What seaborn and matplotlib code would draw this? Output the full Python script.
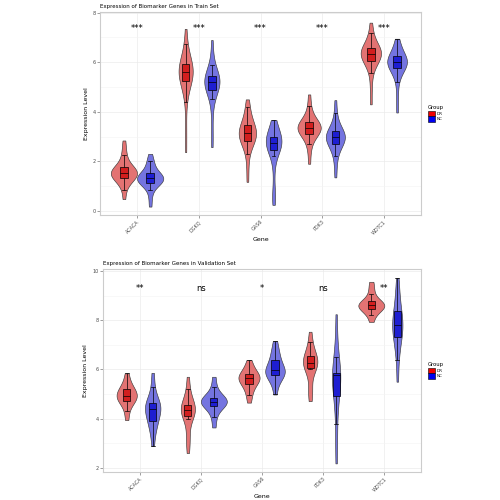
import pandas as pd
import matplotlib
matplotlib.use('Agg')
import matplotlib.pyplot as plt
import seaborn as sns
from matplotlib.patches import Patch
from matplotlib.ticker import MultipleLocator

genes = ['ACACA', 'DGKQ', 'GAS6', 'PDK3', 'WDTC1']
groups = ['DR', 'NC']

train_acaca_dr = [0.47, 0.85, 1.05, 1.18, 1.25, 1.30, 1.33, 1.38, 1.42, 1.46, 1.50, 1.53,
                  1.55, 1.58, 1.62, 1.66, 1.70, 1.74, 1.80, 1.90, 2.05, 2.25, 2.50, 2.84]
train_acaca_nc = [0.17, 0.55, 0.85, 1.00, 1.08, 1.12, 1.16, 1.20, 1.24, 1.27, 1.29, 1.31,
                  1.34, 1.38, 1.42, 1.46, 1.50, 1.56, 1.65, 1.80, 1.97, 2.02, 2.30]
train_dgkq_dr = [2.37, 3.30, 4.40, 4.80, 5.10, 5.22, 5.28, 5.35, 5.42, 5.48, 5.54, 5.60,
                 5.65, 5.70, 5.76, 5.83, 5.90, 5.98, 6.05, 6.20, 6.40, 6.75, 7.35]
train_dgkq_nc = [2.57, 3.20, 4.00, 4.50, 4.75, 4.85, 4.92, 5.00, 5.07, 5.13, 5.18, 5.21,
                 5.25, 5.29, 5.33, 5.37, 5.41, 5.46, 5.55, 5.70, 5.90, 6.30, 6.90]
train_gas6_dr = [1.17, 1.80, 2.30, 2.55, 2.70, 2.78, 2.85, 2.92, 2.98, 3.04, 3.09, 3.13,
                 3.18, 3.24, 3.30, 3.38, 3.45, 3.52, 3.62, 3.78, 3.98, 4.20, 4.50]
train_gas6_nc = [0.24, 0.62, 0.68, 1.60, 2.20, 2.42, 2.52, 2.58, 2.63, 2.67, 2.70, 2.72,
                 2.75, 2.80, 2.85, 2.90, 2.96, 3.02, 3.10, 3.20, 3.32, 3.50, 3.67]
train_pdk3_dr = [1.90, 2.40, 2.70, 2.90, 3.02, 3.08, 3.14, 3.20, 3.25, 3.29, 3.32, 3.35,
                 3.38, 3.42, 3.46, 3.51, 3.55, 3.60, 3.68, 3.80, 3.98, 4.25, 4.70]
train_pdk3_nc = [1.35, 1.85, 2.20, 2.42, 2.58, 2.65, 2.71, 2.78, 2.85, 2.90, 2.94, 2.97,
                 3.00, 3.04, 3.09, 3.14, 3.19, 3.24, 3.32, 3.45, 3.65, 3.95, 4.47]
train_wdtc1_dr = [4.30, 5.00, 5.55, 5.80, 5.95, 6.04, 6.10, 6.16, 6.22, 6.27, 6.31, 6.35,
                  6.39, 6.43, 6.47, 6.51, 6.55, 6.60, 6.68, 6.80, 6.98, 7.20, 7.60]
train_wdtc1_nc = [3.97, 4.60, 5.20, 5.45, 5.62, 5.72, 5.78, 5.84, 5.89, 5.93, 5.97, 6.00,
                  6.03, 6.07, 6.11, 6.15, 6.20, 6.27, 6.35, 6.45, 6.58, 6.75, 6.95]

# validation set expression values
valid_acaca_dr = [3.94, 4.30, 4.55, 4.68, 4.74, 4.80, 4.86, 4.91, 4.96, 5.02, 5.10, 5.18,
                  5.24, 5.35, 5.55, 5.84]
valid_acaca_nc = [2.89, 3.40, 3.70, 3.85, 3.92, 4.10, 4.30, 4.38, 4.44, 4.50, 4.55, 4.60,
                  4.66, 4.90, 5.30, 5.86]
valid_dgkq_dr = [2.60, 3.15, 3.25, 4.00, 4.12, 4.20, 4.28, 4.34, 4.40, 4.44, 4.48, 4.52,
                 4.60, 4.85, 5.20, 5.70]
valid_dgkq_nc = [3.64, 4.05, 4.30, 4.48, 4.55, 4.60, 4.64, 4.67, 4.70, 4.74, 4.79, 4.84,
                 4.90, 5.05, 5.30, 5.70]
valid_gas6_dr = [4.65, 4.95, 5.15, 5.30, 5.42, 5.50, 5.56, 5.61, 5.66, 5.70, 5.75, 5.80,
                 5.90, 6.00, 6.15, 6.38]
valid_gas6_nc = [4.98, 5.40, 5.60, 5.72, 5.80, 5.86, 5.90, 5.94, 5.98, 6.05, 6.20, 6.35,
                 6.48, 6.65, 6.85, 7.15]
valid_pdk3_dr = [4.71, 5.10, 5.25, 6.00, 6.05, 6.10, 6.18, 6.25, 6.30, 6.36, 6.45, 6.52,
                 6.62, 6.80, 7.10, 7.53]
valid_pdk3_nc = [2.18, 3.00, 3.80, 4.80, 4.95, 5.30, 5.60, 5.74, 5.78, 5.80, 5.82, 5.84,
                 5.86, 6.50, 7.30, 8.24]
valid_wdtc1_dr = [7.93, 8.20, 8.35, 8.42, 8.48, 8.53, 8.57, 8.60, 8.63, 8.67, 8.70, 8.74,
                  8.85, 9.05, 9.30, 9.56]
valid_wdtc1_nc = [5.50, 6.40, 6.90, 7.15, 7.35, 7.55, 7.70, 7.78, 7.84, 7.95, 8.10, 8.30,
                  8.55, 8.85, 9.25, 9.72]

train_sig = ['***', '***', '***', '***', '***']
valid_sig = ['**', 'ns', '*', 'ns', '**']

train_samples = [train_acaca_dr, train_acaca_nc, train_dgkq_dr, train_dgkq_nc,
                 train_gas6_dr, train_gas6_nc, train_pdk3_dr, train_pdk3_nc,
                 train_wdtc1_dr, train_wdtc1_nc]
valid_samples = [valid_acaca_dr, valid_acaca_nc, valid_dgkq_dr, valid_dgkq_nc,
                 valid_gas6_dr, valid_gas6_nc, valid_pdk3_dr, valid_pdk3_nc,
                 valid_wdtc1_dr, valid_wdtc1_nc]


def make_df(samples):
    rows = []
    i = 0
    for g in genes:
        for grp in groups:
            for v in samples[i]:
                rows.append((g, grp, v))
            i += 1
    return pd.DataFrame(rows, columns=['Gene', 'Group', 'Expression'])


fill_light = {'DR': '#F66060', 'NC': '#6262F2'}
fill_box = {'DR': '#F00000', 'NC': '#0000F0'}


def draw_panel(ax, df, title, sig, sig_y, ylim, yticks):
    ax.set_axisbelow(True)
    sns.violinplot(data=df, x='Gene', y='Expression', hue='Group', order=genes,
                   hue_order=groups, palette=fill_light, cut=0, inner=None,
                   width=0.85, bw_adjust=0.9, linewidth=0.45, linecolor='#3A3A3A',
                   legend=False, ax=ax)
    sns.boxplot(data=df, x='Gene', y='Expression', hue='Group', order=genes,
                hue_order=groups, palette=fill_box, width=0.85, gap=0.72,
                showfliers=False, linewidth=0.5, linecolor='black',
                legend=False, ax=ax)
    for i, s in enumerate(sig):
        ax.text(i, sig_y, s, ha='center', va='center', fontsize=6, color='black')

    ax.set_xlim(-0.6, 4.6)
    ax.set_ylim(*ylim)
    ax.set_yticks(yticks)
    ax.yaxis.set_minor_locator(MultipleLocator(1))
    ax.grid(True, which='major', color='#EBEBEB', linewidth=0.5)
    ax.grid(True, which='minor', axis='y', color='#F4F4F4', linewidth=0.4)
    ax.tick_params(which='minor', length=0)
    ax.tick_params(which='major', length=2, width=0.4, color='#555555',
                   labelsize=3.5, labelcolor='#4D4D4D', pad=1)
    plt.setp(ax.get_xticklabels(), rotation=45, ha='right', rotation_mode='anchor')
    for sp in ax.spines.values():
        sp.set_color('#CCCCCC')
        sp.set_linewidth(0.8)
    ax.set_title(title, loc='left', fontsize=4, pad=3)
    ax.set_xlabel('Gene', fontsize=4.5, labelpad=1)
    ax.set_ylabel('Expression Level', fontsize=4.5, labelpad=3)

    handles = [Patch(facecolor=fill_box[g], edgecolor='black', linewidth=0.4, label=g)
               for g in groups]
    leg = ax.legend(handles=handles, title='Group', loc='center left',
                    bbox_to_anchor=(1.01, 0.5), frameon=False, fontsize=3,
                    title_fontsize=3.8, handlelength=1.6, handleheight=1.6,
                    handletextpad=0.5, labelspacing=0.1, borderaxespad=0.5)
    leg._legend_box.align = 'left'


fig = plt.figure(figsize=(5, 5), dpi=100)
ax1 = fig.add_axes([0.200, 0.570, 0.642, 0.406])
ax2 = fig.add_axes([0.206, 0.056, 0.636, 0.406])

draw_panel(ax1, make_df(train_samples), 'Expression of Biomarker Genes in Train Set',
           train_sig, 7.38, (-0.17, 8.03), [0, 2, 4, 6, 8])
draw_panel(ax2, make_df(valid_samples), 'Expression of Biomarker Genes in Validation Set',
           valid_sig, 9.3, (1.83, 10.08), [2, 4, 6, 8, 10])

fig.savefig('out.png', dpi=100, facecolor='white')
plt.close(fig)
